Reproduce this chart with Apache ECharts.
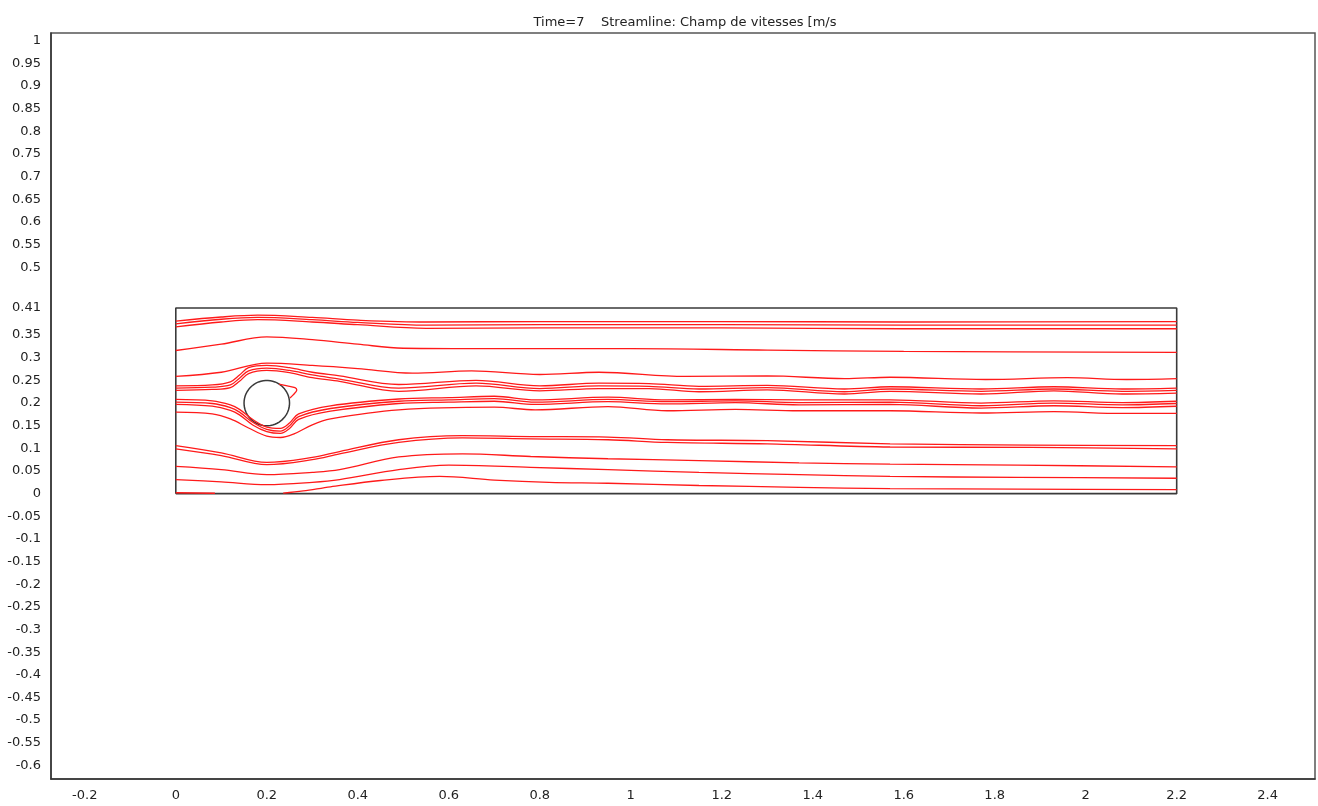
<!DOCTYPE html>
<html>
<head>
<meta charset="utf-8">
<script src="https://cdn.jsdelivr.net/npm/echarts@6/dist/echarts.min.js"></script>
<style>html,body{margin:0;padding:0;background:#fff;}#chart{width:1318px;height:806px;}</style>
</head>
<body>
<div id="chart"></div>
<script>
// ---- data ----
const titleText = 'Time=7    Streamline: Champ de vitesses [m/s';
const xTicks = [-0.2, 0, 0.2, 0.4, 0.6, 0.8, 1, 1.2, 1.4, 1.6, 1.8, 2, 2.2, 2.4];
const yTicks = [1, 0.95, 0.9, 0.85, 0.8, 0.75, 0.7, 0.65, 0.6, 0.55, 0.5, 0.41, 0.35, 0.3, 0.25, 0.2, 0.15, 0.1, 0.05, 0, -0.05, -0.1, -0.15, -0.2, -0.25, -0.3, -0.35, -0.4, -0.45, -0.5, -0.55, -0.6];

const channel = [[0, 0], [2.2, 0], [2.2, 0.41], [0, 0.41], [0, 0]];
const cylinderCenter = [0.2, 0.2];
const cylinderRadius = 0.05;

const top1 = [[0,0.381],[0.1,0.390],[0.18,0.394],[0.3,0.389],[0.4,0.383],[0.55,0.379],[0.8,0.380],[1.2,0.380],[1.6,0.379],[2.2,0.380]];
const top2 = [[0,0.375],[0.1,0.385],[0.18,0.389],[0.3,0.384],[0.4,0.378],[0.55,0.372],[0.8,0.373],[1.2,0.373],[1.6,0.372],[2.2,0.372]];
const top3 = [[0,0.368],[0.1,0.379],[0.18,0.384],[0.3,0.379],[0.4,0.373],[0.55,0.365],[0.8,0.366],[1.2,0.366],[1.6,0.364],[2.2,0.364]];
const mid4 = [[0,0.316],[0.1,0.330],[0.2,0.346],[0.3,0.340],[0.4,0.330],[0.5,0.321],[0.7,0.320],[1.0,0.320],[1.3,0.317],[1.6,0.314],[2.2,0.312]];
const mid5 = [[0,0.259],[0.1,0.268],[0.2,0.288],[0.3,0.283],[0.4,0.276],[0.52,0.266],[0.65,0.271],[0.8,0.263],[0.93,0.268],[1.12,0.259],[1.3,0.260],[1.47,0.254],[1.57,0.257],[1.78,0.252],[1.96,0.256],[2.09,0.252],[2.2,0.254]];

const xA = [0,0.08,0.12,0.14,0.16,0.2,0.25,0.3,0.36,0.49,0.66,0.8,0.93,1.04,1.15,1.3,1.47,1.57,1.77,1.93,2.08,2.2];
const yA1 = [0.238,0.240,0.247,0.262,0.278,0.283,0.278,0.268,0.260,0.241,0.250,0.238,0.244,0.243,0.237,0.239,0.231,0.236,0.231,0.236,0.231,0.233];
const yA2 = [0.233,0.235,0.240,0.255,0.271,0.277,0.272,0.262,0.253,0.233,0.244,0.232,0.238,0.237,0.231,0.234,0.225,0.231,0.226,0.231,0.226,0.228];
const yA3 = [0.228,0.230,0.234,0.248,0.265,0.272,0.267,0.256,0.248,0.226,0.238,0.227,0.232,0.232,0.225,0.229,0.220,0.226,0.220,0.227,0.220,0.222];

const xB = [0,0.08,0.12,0.14,0.17,0.2,0.23,0.25,0.27,0.34,0.49,0.6,0.7,0.79,0.95,1.08,1.23,1.37,1.57,1.77,1.93,2.08,2.2];
const yB1 = [0.208,0.205,0.196,0.186,0.163,0.147,0.144,0.156,0.176,0.194,0.209,0.212,0.215,0.207,0.213,0.207,0.208,0.207,0.207,0.200,0.205,0.201,0.204];
const yB2 = [0.202,0.199,0.190,0.180,0.157,0.142,0.138,0.150,0.170,0.188,0.204,0.207,0.210,0.202,0.208,0.203,0.205,0.201,0.202,0.194,0.200,0.196,0.199];
const yB3 = [0.197,0.193,0.184,0.174,0.151,0.137,0.133,0.144,0.164,0.182,0.199,0.202,0.204,0.197,0.203,0.198,0.201,0.196,0.197,0.189,0.194,0.190,0.193];

const xB4 = [0,0.08,0.12,0.16,0.2,0.23,0.26,0.3,0.34,0.49,0.7,0.79,0.95,1.08,1.23,1.37,1.57,1.77,1.93,2.08,2.2];
const yB4 = [0.180,0.176,0.165,0.145,0.127,0.124,0.132,0.152,0.165,0.185,0.191,0.185,0.192,0.183,0.186,0.183,0.183,0.178,0.181,0.177,0.177];

const xC = [0,0.1,0.2,0.3,0.36,0.49,0.63,0.78,0.95,1.08,1.3,1.57,1.88,2.2];
const yC1 = [0.106,0.090,0.069,0.080,0.093,0.119,0.128,0.126,0.125,0.119,0.117,0.110,0.107,0.106];
const yC2 = [0.099,0.084,0.064,0.075,0.088,0.113,0.123,0.121,0.119,0.113,0.110,0.103,0.102,0.099];

const xC3 = [0,0.1,0.2,0.3,0.36,0.49,0.63,0.78,0.95,1.15,1.37,1.57,1.85,2.2];
const yC3 = [0.060,0.053,0.042,0.047,0.053,0.081,0.088,0.082,0.077,0.073,0.068,0.065,0.063,0.059];
const xC4 = [0,0.1,0.2,0.3,0.36,0.49,0.6,0.78,0.95,1.15,1.37,1.57,1.85,2.2];
const yC4 = [0.031,0.026,0.020,0.025,0.031,0.053,0.063,0.058,0.053,0.047,0.042,0.038,0.036,0.034];

const c5 = [[0.236,0.001],[0.28,0.006],[0.34,0.015],[0.45,0.029],[0.58,0.038],[0.7,0.030],[0.82,0.025],[0.95,0.023],[1.15,0.018],[1.37,0.014],[1.57,0.011],[1.85,0.010],[2.2,0.009]];
const wallSeg = [[0,0.002],[0.086,0.001]];
const bubble = [[0.227,0.242],[0.245,0.238],[0.262,0.234],[0.266,0.229],[0.258,0.218],[0.251,0.211]];

// ---- build ----
const zip = (xs, ys) => xs.map((x, i) => [x, ys[i]]);
const streamlines = [
  top1, top2, top3, mid4, mid5,
  zip(xA, yA1), zip(xA, yA2), zip(xA, yA3),
  zip(xB, yB1), zip(xB, yB2), zip(xB, yB3), zip(xB4, yB4),
  zip(xC, yC1), zip(xC, yC2), zip(xC3, yC3), zip(xC4, yC4),
  c5
];
const circle = [];
for (let i = 0; i <= 120; i++) {
  const t = i / 120 * 2 * Math.PI;
  circle.push([cylinderCenter[0] + cylinderRadius * Math.cos(t), cylinderCenter[1] + cylinderRadius * Math.sin(t)]);
}

const red = '#ff1a1a';
const series = [];
series.push({ type: 'line', data: channel, showSymbol: false, silent: true, lineStyle: { color: '#3a3a3a', width: 1.6 }, z: 3 });
series.push({ type: 'line', data: circle, showSymbol: false, silent: true, lineStyle: { color: '#3a3a3a', width: 1.5 }, z: 3 });
streamlines.forEach(d => series.push({ type: 'line', data: d, showSymbol: false, silent: true, smooth: 0.35, lineStyle: { color: red, width: 1.3 }, z: 4 }));
series.push({ type: 'line', data: wallSeg, showSymbol: false, silent: true, lineStyle: { color: red, width: 1.6 }, z: 4 });
series.push({ type: 'line', data: bubble, showSymbol: false, silent: true, smooth: 0.3, lineStyle: { color: red, width: 1.3 }, z: 4 });

const fmt = v => String(+(+v).toFixed(2));
const chart = echarts.init(document.getElementById('chart'), null, { renderer: 'canvas' });
chart.setOption({
  animation: false,
  backgroundColor: '#fff',
  title: { text: titleText, left: 680, top: 11, textAlign: 'center',
    textStyle: { fontFamily: 'DejaVu Sans', fontSize: 13, fontWeight: 'normal', color: '#222' } },
  grid: { left: 51, right: 3, top: 33, bottom: 27, show: true, borderColor: '#555', borderWidth: 1.5, containLabel: false },
  xAxis: { type: 'value', min: -0.2743, max: 2.504,
    axisLine: { show: true, onZero: false, lineStyle: { color: '#333', width: 1.5 } },
    axisTick: { show: false }, splitLine: { show: false },
    axisLabel: { customValues: xTicks, formatter: fmt, margin: 10, color: '#222', fontFamily: 'DejaVu Sans', fontSize: 13 } },
  yAxis: { type: 'value', min: -0.630, max: 1.017,
    axisLine: { show: true, onZero: false, lineStyle: { color: '#333', width: 1.5 } },
    axisTick: { show: false }, splitLine: { show: false },
    axisLabel: { customValues: yTicks, formatter: fmt, margin: 10, color: '#222', fontFamily: 'DejaVu Sans', fontSize: 13 } },
  series: series
});
</script>
</body>
</html>
